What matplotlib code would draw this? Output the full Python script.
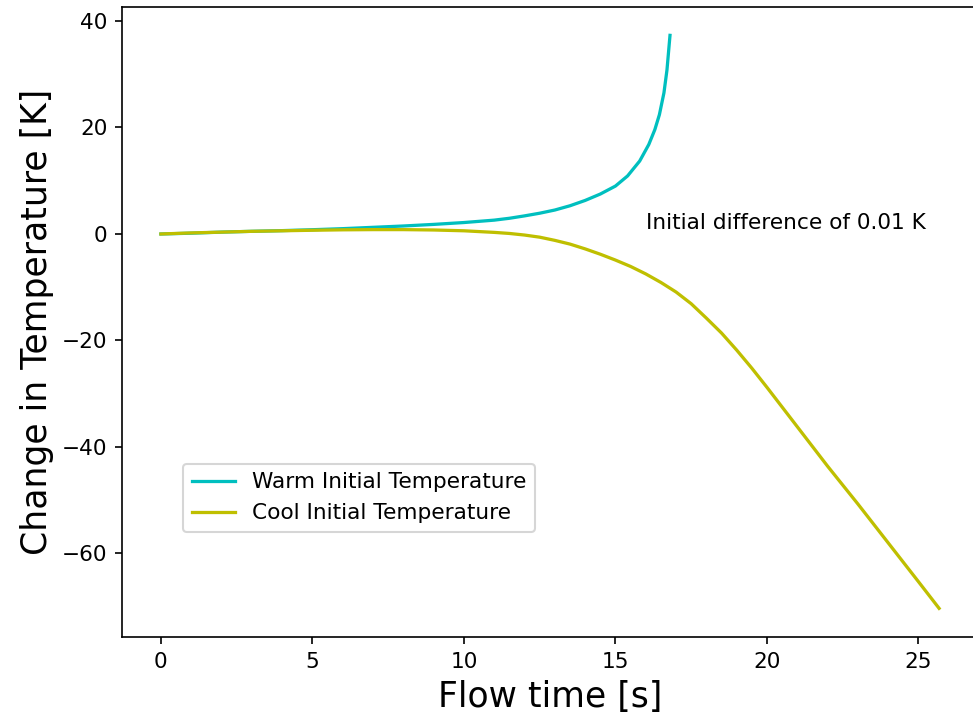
"""Warm vs cool initial temperature: divergence over flow time."""
import matplotlib
matplotlib.use("Agg")
import matplotlib.pyplot as plt

# values
warm_t = [0, 1, 2, 3, 4, 5, 6, 7, 8, 9, 10, 11, 11.5, 12, 12.5, 13, 13.5, 14,
          14.5, 15, 15.4, 15.8, 16.1, 16.3, 16.45, 16.6, 16.7, 16.8]
warm_dT = [0.0, 0.15, 0.35, 0.5, 0.63, 0.8, 1.0, 1.25, 1.5, 1.8, 2.15, 2.6, 2.95,
           3.4, 3.9, 4.5, 5.3, 6.3, 7.5, 9.0, 10.9, 13.7, 16.8, 19.6, 22.4, 26.5, 30.8, 37.3]

cool_t = [0, 1, 2, 3, 4, 5, 6, 7, 8, 9, 10, 10.5, 11, 11.5, 12, 12.5, 13, 13.5, 14,
          14.5, 15, 15.5, 16, 16.5, 17, 17.5, 18, 18.5, 19, 19.5, 20, 21, 22, 23, 24,
          25, 25.68]
cool_dT = [0.0, 0.2, 0.35, 0.5, 0.6, 0.7, 0.78, 0.82, 0.82, 0.75, 0.6, 0.45, 0.3, 0.1,
           -0.2, -0.6, -1.2, -1.9, -2.8, -3.8, -4.9, -6.1, -7.5, -9.1, -10.9, -13.1, -15.8,
           -18.6, -21.8, -25.2, -28.8, -36.2, -43.6, -50.7, -58.0, -65.3, -70.3]

plt.rcParams["font.size"] = 10.4
plt.rcParams["lines.linewidth"] = 1.56

fig = plt.figure(figsize=(973 / 150, 714 / 150), dpi=150)
ax = fig.add_axes([122 / 973, 1 - 637 / 714, 856 / 973, 630.3 / 714])

ax.plot(warm_t, warm_dT, color="c", label="Warm Initial Temperature")
ax.plot(cool_t, cool_dT, color="y", label="Cool Initial Temperature")
ax.text(16, 1, "Initial difference of 0.01 K")

ax.set_xlabel("Flow time [s]", fontsize=16.6)
ax.set_ylabel("Change in Temperature [K]", fontsize=16.6)
ax.legend(loc="lower left", bbox_to_anchor=(0.0713, 0.1667), borderaxespad=0)

fig.savefig("out.png", dpi=150)
